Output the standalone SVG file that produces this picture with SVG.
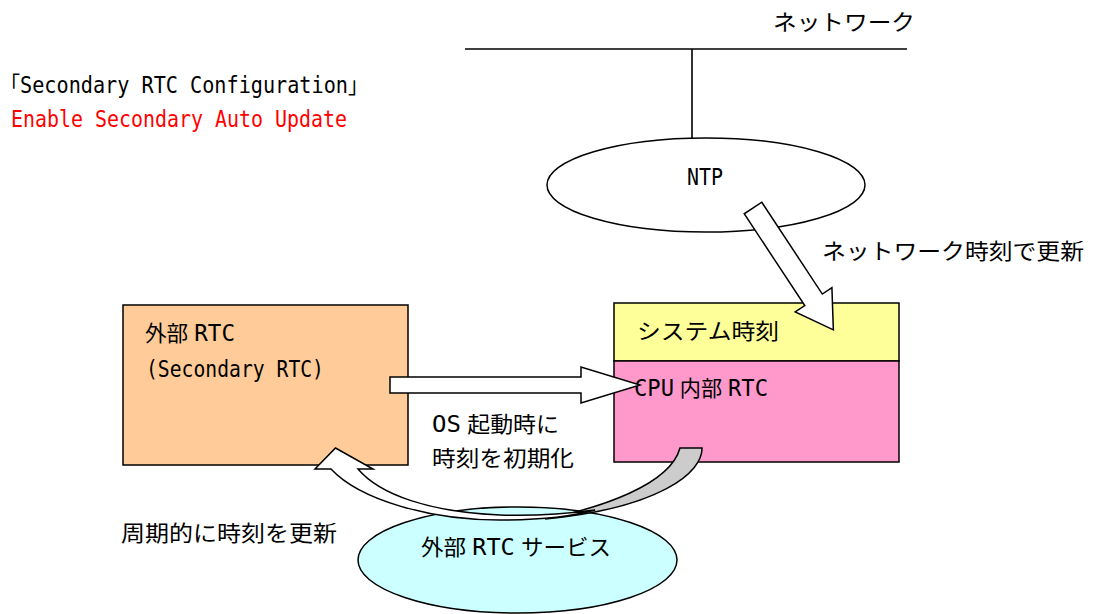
<svg xmlns="http://www.w3.org/2000/svg" width="1098" height="614" viewBox="0 0 1098 614">
<style>
.t{font-family:"DejaVu Sans Mono","Noto Sans CJK JP",monospace;font-size:23px;fill:#000}
.j{font-size:22px}
.sp{font-size:10px}
.red{fill:#FF0000}
.ln{stroke:#000;stroke-width:1.6;fill:none}
.box{stroke:#000;stroke-width:1.5}
.arr{fill:#fff;stroke:#000;stroke-width:1.5;stroke-linejoin:miter}
</style>
<rect width="1098" height="614" fill="#fff"/>
<g id="labels">
<text class="t" x="10" y="93" textLength="348" lengthAdjust="spacingAndGlyphs">｢Secondary RTC Configuration｣</text>
<text class="t red" x="11" y="127" textLength="336" lengthAdjust="spacingAndGlyphs">Enable Secondary Auto Update</text>
</g>
<g id="network">
<line class="ln" x1="465" y1="49" x2="907" y2="49" stroke-width="2"/>
<text class="t j" x="773" y="30" textLength="142" lengthAdjust="spacingAndGlyphs">ネットワーク</text>
</g>
<g id="connectors">
<line class="ln" x1="692" y1="49" x2="692" y2="138"/>
</g>
<g id="ntp">
<ellipse cx="706" cy="185" rx="159" ry="47" fill="#fff" class="box"/>
<text class="t" x="687" y="185" textLength="36" lengthAdjust="spacingAndGlyphs">NTP</text>
</g>
<g id="external-rtc">
<rect x="123" y="305" width="285" height="160" fill="#FFCC99" class="box"/>
<text class="t" x="145" y="341" textLength="90" lengthAdjust="spacingAndGlyphs"><tspan class="j">外部</tspan><tspan class="sp"> </tspan>RTC</text>
<text class="t" x="146" y="377" textLength="178" lengthAdjust="spacingAndGlyphs">(Secondary RTC)</text>
</g>
<g id="system-clock">
<rect x="614" y="303" width="285" height="58" fill="#FFFF99" class="box"/>
<text class="t j" x="637" y="339" textLength="142" lengthAdjust="spacingAndGlyphs">システム時刻</text>
</g>
<g id="cpu-rtc">
<rect x="614" y="361" width="285" height="101" fill="#FF99CC" class="box"/>
<text class="t" x="634" y="396" textLength="134" lengthAdjust="spacingAndGlyphs">CPU<tspan class="sp"> </tspan><tspan class="j">内部</tspan><tspan class="sp"> </tspan>RTC</text>
</g>
<g id="rtc-service">
<ellipse cx="517.5" cy="560" rx="159.5" ry="53" fill="#CCFFFF" class="box"/>
<text class="t" x="421" y="555" textLength="190" lengthAdjust="spacingAndGlyphs"><tspan class="j">外部</tspan><tspan class="sp"> </tspan>RTC<tspan class="sp"> </tspan><tspan class="j">サービス</tspan></text>
</g>
<g id="arrows">
<polygon class="arr" transform="translate(753,208) rotate(56.6)" points="0,-10.5 110,-10.5 110,-22 146,0 110,22 110,10.5 0,10.5"/>
<polygon class="arr" points="390,377 581,377 581,367 640,385 581,403 581,393 390,393"/>
<path d="M680,448 L702,448 C703,472 660,508 545,519 C600,508 670,485 680,448 Z" fill="#CCCCCC" stroke="#000" stroke-width="1.5"/>
<path class="arr" d="M335.5,448 L373,469 L358,469 C380,495 430,512 500,515 C530,516 565,514 595,510 C570,517 535,520 500,520 C430,520 360,500 331,469 L315,469 Z"/>
</g>
<g id="edge-labels">
<text class="t j" x="822" y="259" textLength="262" lengthAdjust="spacingAndGlyphs">ネットワーク時刻で更新</text>
<text class="t" x="432" y="432" textLength="127" lengthAdjust="spacingAndGlyphs">OS<tspan class="sp"> </tspan><tspan class="j">起動時に</tspan></text>
<text class="t j" x="432" y="466" textLength="142" lengthAdjust="spacingAndGlyphs">時刻を初期化</text>
<text class="t j" x="121" y="541" textLength="216" lengthAdjust="spacingAndGlyphs">周期的に時刻を更新</text>
</g>
</svg>
